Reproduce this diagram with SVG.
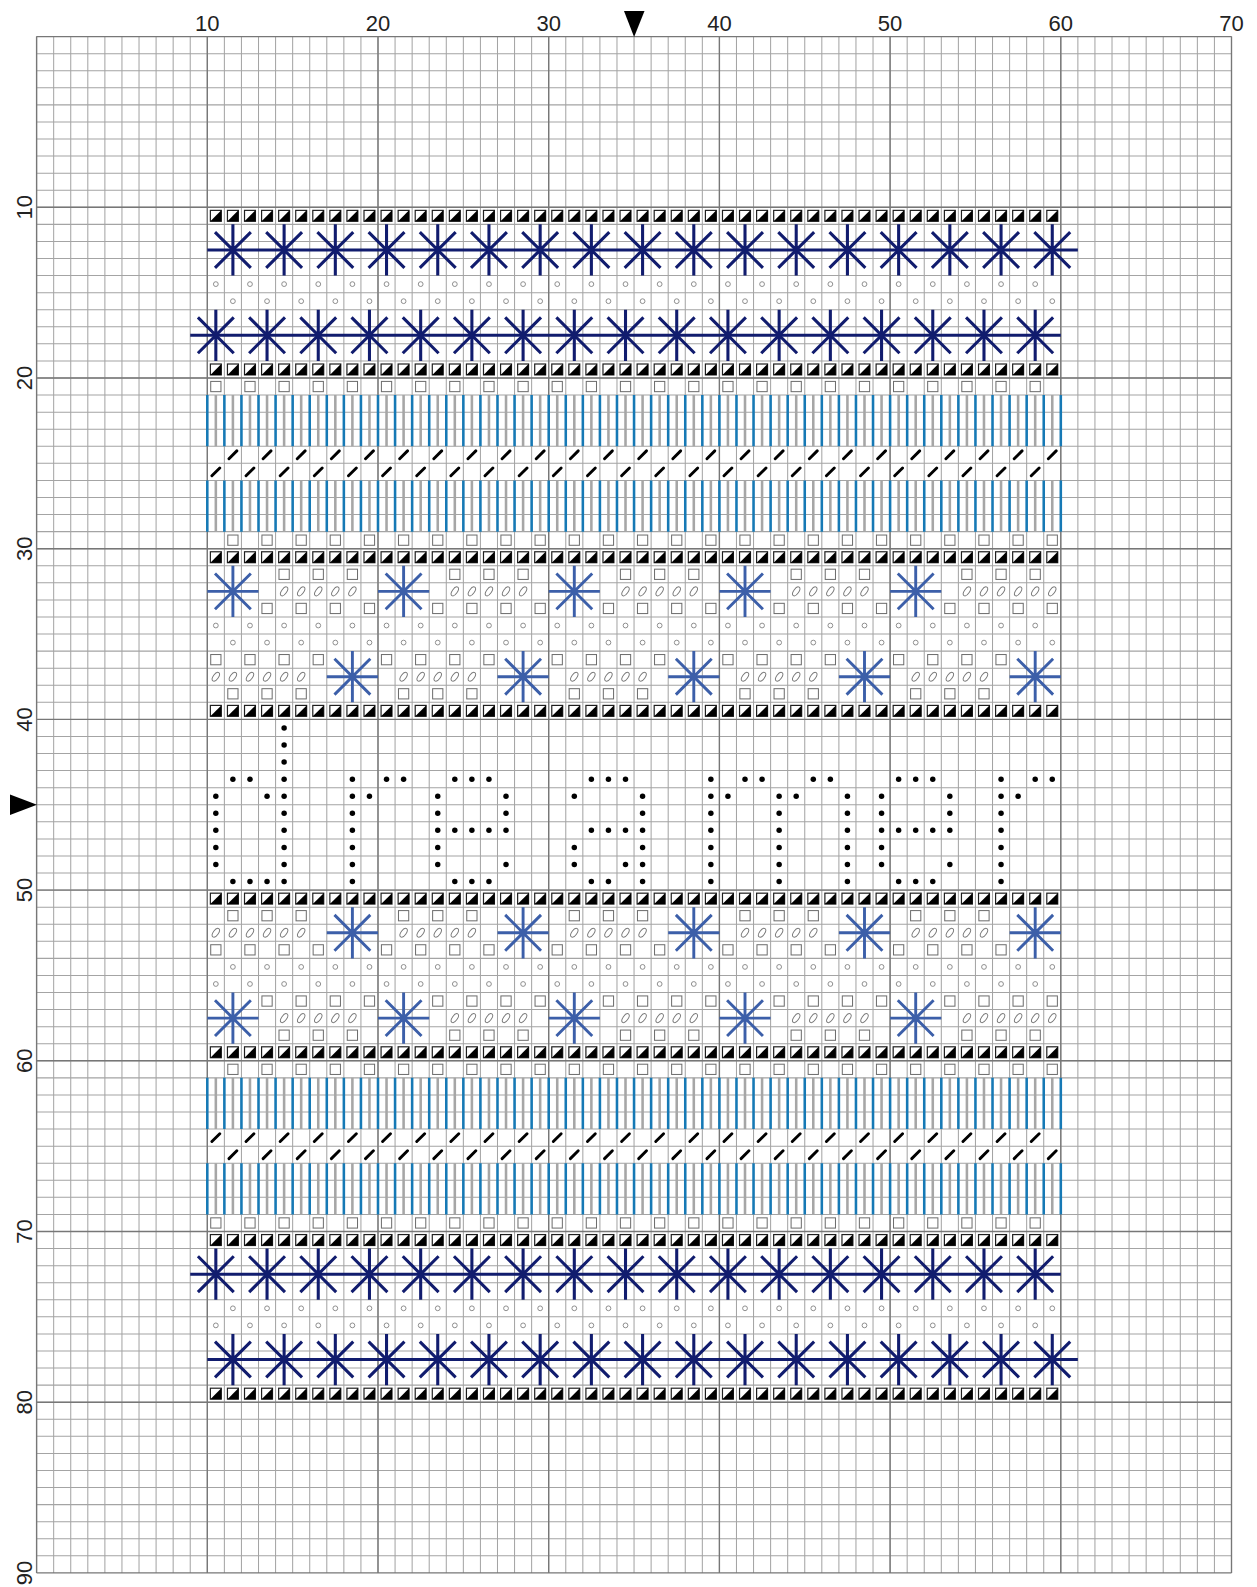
<svg xmlns="http://www.w3.org/2000/svg" width="1257" height="1587" viewBox="0 0 1257 1587">
<style>
.lbl{font-family:"Liberation Sans",Arial,sans-serif;font-size:22px;fill:#222;text-anchor:middle}
.sq{fill:#fff;stroke:#6e6e6e;stroke-width:.06}
.ov{fill:none;stroke:#777;stroke-width:.055}
.ci{fill:none;stroke:#888;stroke-width:.055}
.dash{fill:none;stroke:#000;stroke-width:.17;stroke-linecap:round}
.navy{fill:none;stroke:#111c6e;stroke-width:.18}
.blue{fill:none;stroke:#3c5fa9;stroke-width:.17}
.dot{fill:#000}
</style>
<defs>
<path id="gv10" d="M0 0v90m1-90v90m1-90v90m1-90v90m1-90v90m1-90v90m1-90v90m1-90v90m1-90v90m1-90v90"/>
<path id="gh10" d="M0 0h70m-70 1h70m-70 1h70m-70 1h70m-70 1h70m-70 1h70m-70 1h70m-70 1h70m-70 1h70m-70 1h70"/>
<rect id="sq" class="sq" x=".2" y=".2" width=".6" height=".6"/>
<ellipse id="ov" class="ov" cx=".5" cy=".5" rx=".3" ry=".15" transform="rotate(-55 .5 .5)"/>
<path id="bstar" class="blue" d="M0-1.5V1.5M-1.5 0H1.5M-1.05-1.05L1.05 1.05M-1.05 1.05L1.05-1.05"/>
<g id="hb"><rect x=".18" y=".18" width=".64" height=".64" fill="#fff" stroke="#1e1e1e" stroke-width=".07"/><path d="M.82 .18V.82H.18Z" fill="#000"/></g>
<g id="hb10"><use href="#hb"/><use href="#hb" x="1"/><use href="#hb" x="2"/><use href="#hb" x="3"/><use href="#hb" x="4"/><use href="#hb" x="5"/><use href="#hb" x="6"/><use href="#hb" x="7"/><use href="#hb" x="8"/><use href="#hb" x="9"/></g>
<g id="hbrow"><use href="#hb10" x="10"/><use href="#hb10" x="20"/><use href="#hb10" x="30"/><use href="#hb10" x="40"/><use href="#hb10" x="50"/></g>
<g id="ci5" class="ci"><circle cx=".5" cy=".5" r=".14"/><circle cx="2.5" cy=".5" r=".14"/><circle cx="4.5" cy=".5" r=".14"/><circle cx="6.5" cy=".5" r=".14"/><circle cx="8.5" cy=".5" r=".14"/></g>
<g id="cirow"><use href="#ci5" x="10"/><use href="#ci5" x="20"/><use href="#ci5" x="30"/><use href="#ci5" x="40"/><use href="#ci5" x="50"/></g>
<g id="sq5"><use href="#sq"/><use href="#sq" x="2"/><use href="#sq" x="4"/><use href="#sq" x="6"/><use href="#sq" x="8"/></g>
<g id="sqrow"><use href="#sq5" x="10"/><use href="#sq5" x="20"/><use href="#sq5" x="30"/><use href="#sq5" x="40"/><use href="#sq5" x="50"/></g>
<path id="d5" class="dash" d="M.27 .73l.46-.46m1.54 .46l.46-.46m1.54 .46l.46-.46m1.54 .46l.46-.46m1.54 .46l.46-.46"/>
<g id="drow"><use href="#d5" x="10"/><use href="#d5" x="20"/><use href="#d5" x="30"/><use href="#d5" x="40"/><use href="#d5" x="50"/></g>
<g id="st10" fill="none" stroke-width=".15"><path stroke="#1679b5" d="M0 0v3m1-3v3m1-3v3m1-3v3m1-3v3m1-3v3m1-3v3m1-3v3m1-3v3m1-3v3"/><path stroke="#a6a6a6" d="M.5 0v3m1-3v3m1-3v3m1-3v3m1-3v3m1-3v3m1-3v3m1-3v3m1-3v3m1-3v3"/></g>
<g id="strow"><use href="#st10" x="10"/><use href="#st10" x="20"/><use href="#st10" x="30"/><use href="#st10" x="40"/><use href="#st10" x="50"/><path d="M60 0v3" fill="none" stroke="#1679b5" stroke-width=".15"/></g>
<path id="nst" d="M1.5-1.5V1.5M.45-1.05L2.55 1.05M.45 1.05L2.55-1.05"/>
<g id="nrow" class="navy"><path d="M0 0H51"/><use href="#nst"/><use href="#nst" x="3"/><use href="#nst" x="6"/><use href="#nst" x="9"/><use href="#nst" x="12"/><use href="#nst" x="15"/><use href="#nst" x="18"/><use href="#nst" x="21"/><use href="#nst" x="24"/><use href="#nst" x="27"/><use href="#nst" x="30"/><use href="#nst" x="33"/><use href="#nst" x="36"/><use href="#nst" x="39"/><use href="#nst" x="42"/><use href="#nst" x="45"/><use href="#nst" x="48"/></g>
<g id="tileT">
<use href="#sq" x="14" y="31"/><use href="#sq" x="16" y="31"/><use href="#sq" x="18" y="31"/>
<use href="#ov" x="14" y="32"/><use href="#ov" x="15" y="32"/><use href="#ov" x="16" y="32"/><use href="#ov" x="17" y="32"/><use href="#ov" x="18" y="32"/>
<use href="#sq" x="13" y="33"/><use href="#sq" x="15" y="33"/><use href="#sq" x="17" y="33"/><use href="#sq" x="19" y="33"/>
<use href="#sq" x="10" y="36"/><use href="#sq" x="12" y="36"/><use href="#sq" x="14" y="36"/><use href="#sq" x="16" y="36"/>
<use href="#ov" x="11" y="37"/><use href="#ov" x="12" y="37"/><use href="#ov" x="13" y="37"/><use href="#ov" x="14" y="37"/><use href="#ov" x="15" y="37"/>
<use href="#sq" x="11" y="38"/><use href="#sq" x="13" y="38"/><use href="#sq" x="15" y="38"/>
<use href="#bstar" x="11.5" y="32.5"/><use href="#bstar" x="18.5" y="37.5"/>
</g>
<g id="tileB">
<use href="#sq" x="14" y="58"/><use href="#sq" x="16" y="58"/><use href="#sq" x="18" y="58"/>
<use href="#ov" x="14" y="57"/><use href="#ov" x="15" y="57"/><use href="#ov" x="16" y="57"/><use href="#ov" x="17" y="57"/><use href="#ov" x="18" y="57"/>
<use href="#sq" x="13" y="56"/><use href="#sq" x="15" y="56"/><use href="#sq" x="17" y="56"/><use href="#sq" x="19" y="56"/>
<use href="#sq" x="10" y="53"/><use href="#sq" x="12" y="53"/><use href="#sq" x="14" y="53"/><use href="#sq" x="16" y="53"/>
<use href="#ov" x="11" y="52"/><use href="#ov" x="12" y="52"/><use href="#ov" x="13" y="52"/><use href="#ov" x="14" y="52"/><use href="#ov" x="15" y="52"/>
<use href="#sq" x="11" y="51"/><use href="#sq" x="13" y="51"/><use href="#sq" x="15" y="51"/>
<use href="#bstar" x="11.5" y="57.5"/><use href="#bstar" x="18.5" y="52.5"/>
</g>
</defs>
<rect width="1257" height="1587" fill="#fff"/>
<g id="chart" transform="translate(36.6 36.6) scale(17.07)">
<g id="grid" fill="none">
<g stroke="#a4a4a4" stroke-width=".06">
<use href="#gv10"/><use href="#gv10" x="10"/><use href="#gv10" x="20"/><use href="#gv10" x="30"/><use href="#gv10" x="40"/><use href="#gv10" x="50"/><use href="#gv10" x="60"/>
<use href="#gh10"/><use href="#gh10" y="10"/><use href="#gh10" y="20"/><use href="#gh10" y="30"/><use href="#gh10" y="40"/><use href="#gh10" y="50"/><use href="#gh10" y="60"/><use href="#gh10" y="70"/><use href="#gh10" y="80"/>
</g>
<path stroke="#777" stroke-width=".08" d="M0 0V90M10 0V90M20 0V90M30 0V90M40 0V90M50 0V90M60 0V90M70 0V90M0 0H70M0 10H70M0 20H70M0 30H70M0 40H70M0 50H70M0 60H70M0 70H70M0 80H70M0 90H70"/>
</g>
<g id="borders"><use href="#hbrow" y="10"/><use href="#hbrow" y="19"/><use href="#hbrow" y="30"/><use href="#hbrow" y="39"/><use href="#hbrow" y="50"/><use href="#hbrow" y="59"/><use href="#hbrow" y="70"/><use href="#hbrow" y="79"/></g>
<g id="circles"><use href="#cirow" y="14"/><use href="#cirow" x="1" y="15"/><use href="#cirow" y="34"/><use href="#cirow" x="1" y="35"/><use href="#cirow" x="1" y="54"/><use href="#cirow" y="55"/><use href="#cirow" x="1" y="74"/><use href="#cirow" y="75"/></g>
<g id="squares"><use href="#sqrow" y="20"/><use href="#sqrow" x="1" y="29"/><use href="#sqrow" x="1" y="60"/><use href="#sqrow" y="69"/></g>
<g id="stripes"><use href="#strow" y="21"/><use href="#strow" y="26"/><use href="#strow" y="61"/><use href="#strow" y="66"/></g>
<g id="dashes"><use href="#drow" x="1" y="24"/><use href="#drow" y="25"/><use href="#drow" y="64"/><use href="#drow" x="1" y="65"/></g>
<g id="navy-stars"><use href="#nrow" x="10" y="12.5"/><use href="#nrow" x="9" y="17.5"/><use href="#nrow" x="9" y="72.5"/><use href="#nrow" x="10" y="77.5"/></g>
<g id="band-top"><use href="#tileT"/><use href="#tileT" x="10"/><use href="#tileT" x="20"/><use href="#tileT" x="30"/><use href="#tileT" x="40"/><use href="#ov" x="10" y="37"/><use href="#ov" x="59" y="32"/></g>
<g id="band-bottom"><use href="#tileB"/><use href="#tileB" x="10"/><use href="#tileB" x="20"/><use href="#tileB" x="30"/><use href="#tileB" x="40"/><use href="#ov" x="10" y="52"/><use href="#ov" x="59" y="57"/></g>
<g id="lettering" class="dot">
<g id="letter-d"><circle cx="14.5" cy="40.5" r=".16"/><circle cx="14.5" cy="41.5" r=".16"/><circle cx="14.5" cy="42.5" r=".16"/><circle cx="11.5" cy="43.5" r=".16"/><circle cx="12.5" cy="43.5" r=".16"/><circle cx="14.5" cy="43.5" r=".16"/><circle cx="10.5" cy="44.5" r=".16"/><circle cx="13.5" cy="44.5" r=".16"/><circle cx="14.5" cy="44.5" r=".16"/><circle cx="10.5" cy="45.5" r=".16"/><circle cx="14.5" cy="45.5" r=".16"/><circle cx="10.5" cy="46.5" r=".16"/><circle cx="14.5" cy="46.5" r=".16"/><circle cx="10.5" cy="47.5" r=".16"/><circle cx="14.5" cy="47.5" r=".16"/><circle cx="10.5" cy="48.5" r=".16"/><circle cx="14.5" cy="48.5" r=".16"/><circle cx="11.5" cy="49.5" r=".16"/><circle cx="12.5" cy="49.5" r=".16"/><circle cx="13.5" cy="49.5" r=".16"/><circle cx="14.5" cy="49.5" r=".16"/></g>
<g id="letter-r1"><circle cx="18.5" cy="43.5" r=".16"/><circle cx="20.5" cy="43.5" r=".16"/><circle cx="21.5" cy="43.5" r=".16"/><circle cx="18.5" cy="44.5" r=".16"/><circle cx="19.5" cy="44.5" r=".16"/><circle cx="18.5" cy="45.5" r=".16"/><circle cx="18.5" cy="46.5" r=".16"/><circle cx="18.5" cy="47.5" r=".16"/><circle cx="18.5" cy="48.5" r=".16"/><circle cx="18.5" cy="49.5" r=".16"/></g>
<g id="letter-e1"><circle cx="24.5" cy="43.5" r=".16"/><circle cx="25.5" cy="43.5" r=".16"/><circle cx="26.5" cy="43.5" r=".16"/><circle cx="23.5" cy="44.5" r=".16"/><circle cx="27.5" cy="44.5" r=".16"/><circle cx="23.5" cy="45.5" r=".16"/><circle cx="27.5" cy="45.5" r=".16"/><circle cx="23.5" cy="46.5" r=".16"/><circle cx="24.5" cy="46.5" r=".16"/><circle cx="25.5" cy="46.5" r=".16"/><circle cx="26.5" cy="46.5" r=".16"/><circle cx="27.5" cy="46.5" r=".16"/><circle cx="23.5" cy="47.5" r=".16"/><circle cx="23.5" cy="48.5" r=".16"/><circle cx="27.5" cy="48.5" r=".16"/><circle cx="24.5" cy="49.5" r=".16"/><circle cx="25.5" cy="49.5" r=".16"/><circle cx="26.5" cy="49.5" r=".16"/></g>
<g id="letter-a"><circle cx="32.5" cy="43.5" r=".16"/><circle cx="33.5" cy="43.5" r=".16"/><circle cx="34.5" cy="43.5" r=".16"/><circle cx="31.5" cy="44.5" r=".16"/><circle cx="35.5" cy="44.5" r=".16"/><circle cx="35.5" cy="45.5" r=".16"/><circle cx="32.5" cy="46.5" r=".16"/><circle cx="33.5" cy="46.5" r=".16"/><circle cx="34.5" cy="46.5" r=".16"/><circle cx="35.5" cy="46.5" r=".16"/><circle cx="31.5" cy="47.5" r=".16"/><circle cx="35.5" cy="47.5" r=".16"/><circle cx="31.5" cy="48.5" r=".16"/><circle cx="34.5" cy="48.5" r=".16"/><circle cx="35.5" cy="48.5" r=".16"/><circle cx="32.5" cy="49.5" r=".16"/><circle cx="33.5" cy="49.5" r=".16"/><circle cx="35.5" cy="49.5" r=".16"/></g>
<g id="letter-m"><circle cx="39.5" cy="43.5" r=".16"/><circle cx="41.5" cy="43.5" r=".16"/><circle cx="42.5" cy="43.5" r=".16"/><circle cx="45.5" cy="43.5" r=".16"/><circle cx="46.5" cy="43.5" r=".16"/><circle cx="39.5" cy="44.5" r=".16"/><circle cx="40.5" cy="44.5" r=".16"/><circle cx="43.5" cy="44.5" r=".16"/><circle cx="44.5" cy="44.5" r=".16"/><circle cx="47.5" cy="44.5" r=".16"/><circle cx="39.5" cy="45.5" r=".16"/><circle cx="43.5" cy="45.5" r=".16"/><circle cx="47.5" cy="45.5" r=".16"/><circle cx="39.5" cy="46.5" r=".16"/><circle cx="43.5" cy="46.5" r=".16"/><circle cx="47.5" cy="46.5" r=".16"/><circle cx="39.5" cy="47.5" r=".16"/><circle cx="43.5" cy="47.5" r=".16"/><circle cx="47.5" cy="47.5" r=".16"/><circle cx="39.5" cy="48.5" r=".16"/><circle cx="43.5" cy="48.5" r=".16"/><circle cx="47.5" cy="48.5" r=".16"/><circle cx="39.5" cy="49.5" r=".16"/><circle cx="43.5" cy="49.5" r=".16"/><circle cx="47.5" cy="49.5" r=".16"/></g>
<g id="letter-e2"><circle cx="50.5" cy="43.5" r=".16"/><circle cx="51.5" cy="43.5" r=".16"/><circle cx="52.5" cy="43.5" r=".16"/><circle cx="49.5" cy="44.5" r=".16"/><circle cx="53.5" cy="44.5" r=".16"/><circle cx="49.5" cy="45.5" r=".16"/><circle cx="53.5" cy="45.5" r=".16"/><circle cx="49.5" cy="46.5" r=".16"/><circle cx="50.5" cy="46.5" r=".16"/><circle cx="51.5" cy="46.5" r=".16"/><circle cx="52.5" cy="46.5" r=".16"/><circle cx="53.5" cy="46.5" r=".16"/><circle cx="49.5" cy="47.5" r=".16"/><circle cx="49.5" cy="48.5" r=".16"/><circle cx="53.5" cy="48.5" r=".16"/><circle cx="50.5" cy="49.5" r=".16"/><circle cx="51.5" cy="49.5" r=".16"/><circle cx="52.5" cy="49.5" r=".16"/></g>
<g id="letter-r2"><circle cx="56.5" cy="43.5" r=".16"/><circle cx="58.5" cy="43.5" r=".16"/><circle cx="59.5" cy="43.5" r=".16"/><circle cx="56.5" cy="44.5" r=".16"/><circle cx="57.5" cy="44.5" r=".16"/><circle cx="56.5" cy="45.5" r=".16"/><circle cx="56.5" cy="46.5" r=".16"/><circle cx="56.5" cy="47.5" r=".16"/><circle cx="56.5" cy="48.5" r=".16"/><circle cx="56.5" cy="49.5" r=".16"/></g>
</g>
</g>
<g id="labels">
<text class="lbl" x="207.3" y="30.5">10</text><text class="lbl" x="378" y="30.5">20</text><text class="lbl" x="548.7" y="30.5">30</text><text class="lbl" x="719.4" y="30.5">40</text><text class="lbl" x="890.1" y="30.5">50</text><text class="lbl" x="1060.8" y="30.5">60</text><text class="lbl" x="1231.5" y="30.5">70</text>
<text class="lbl" transform="translate(31.5 207.3) rotate(-90)">10</text><text class="lbl" transform="translate(31.5 378) rotate(-90)">20</text><text class="lbl" transform="translate(31.5 548.7) rotate(-90)">30</text><text class="lbl" transform="translate(31.5 719.4) rotate(-90)">40</text><text class="lbl" transform="translate(31.5 890.1) rotate(-90)">50</text><text class="lbl" transform="translate(31.5 1060.8) rotate(-90)">60</text><text class="lbl" transform="translate(31.5 1231.5) rotate(-90)">70</text><text class="lbl" transform="translate(31.5 1402.2) rotate(-90)">80</text><text class="lbl" transform="translate(31.5 1572.9) rotate(-90)">90</text>
</g>
<g id="center-marks" fill="#000"><path d="M624 11H644.5L634.1 37Z"/><path d="M10 794.5V815L37 804.8Z"/></g>
</svg>
